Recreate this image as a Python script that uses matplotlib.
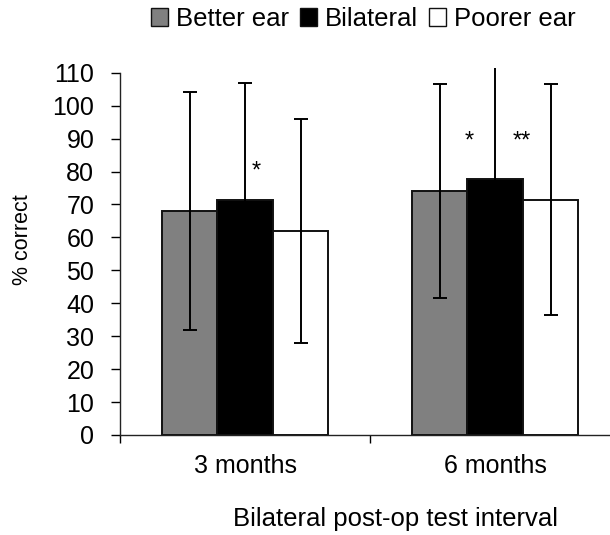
import matplotlib
matplotlib.use("Agg")
import matplotlib.pyplot as plt
from matplotlib.patches import Rectangle
import numpy as np

plt.rcParams['font.family'] = ['Liberation Sans', 'DejaVu Sans']

categories = ["3 months", "6 months"]
series_names = ["Better ear", "Bilateral", "Poorer ear"]
better_ear = [68, 74]
bilateral = [71.5, 77.8]
poorer_ear = [62, 71.5]
better_sd = [36, 32.5]
bilateral_sd = [35.5, 36]
poorer_sd = [34, 35]
yticks = list(range(0, 111, 10))

# significance markers: (x position in category units, y value, text)
star_x = [0.046, 0.898, 1.106]
star_y = [80, 89, 89]
star_txt = ["*", "*", "**"]

colors = ["#808080", "#000000", "#ffffff"]

fig = plt.figure(figsize=(6.1, 5.35), dpi=100)
ax = fig.add_axes([120/610, 100/535, 1 - 120/610, (435 - 72.7)/535 * 1.0136])

x = np.arange(len(categories))
w = 0.222
vals = [better_ear, bilateral, poorer_ear]
sds = [better_sd, bilateral_sd, poorer_sd]
for i, (v, s, c) in enumerate(zip(vals, sds, colors)):
    xs = x + (i - 1) * w
    ax.bar(xs, v, width=w, color=c, edgecolor="#111111", linewidth=1.4, zorder=2)
    ax.errorbar(xs, v, yerr=s, fmt="none", ecolor="black", elinewidth=1.4,
                capsize=4.7, capthick=1.4, zorder=3)

for sx, sy, st in zip(star_x, star_y, star_txt):
    ax.text(sx, sy, st, ha="center", va="center", fontsize=17)

ax.set_ylim(0, 111.5)
ax.set_xlim(-0.5, 1.46)
ax.spines['left'].set_bounds(0, 110)
ax.spines['top'].set_visible(False)
ax.spines['right'].set_visible(False)
for sp in ax.spines.values():
    sp.set_linewidth(1.0)
    sp.set_color("#222222")

ax.set_yticks(yticks)
ax.set_yticklabels([str(t) for t in yticks], fontsize=18)
ax.tick_params(axis='y', direction='out', length=6.5, width=1.0, pad=12)

ax.set_xticks([-0.5, 0.5])
ax.set_xticklabels(["", ""])
ax.tick_params(axis='x', which='major', direction='out', length=6, width=1.0)
ax.set_xticks(x, minor=True)
ax.set_xticklabels(categories, minor=True, fontsize=18)
ax.tick_params(axis='x', which='minor', length=0, pad=14)

fig.text(23/610, 1 - 240/535, "% correct", rotation=90, ha="center", va="center", fontsize=15.5)
fig.text(395/610, 1 - 519/535, "Bilateral post-op test interval", ha="center", va="center", fontsize=18.5)

handles = [Rectangle((0, 0), 1, 1, facecolor=c, edgecolor="#111111", linewidth=1.0) for c in colors]
leg = fig.legend(handles, series_names, loc="center", bbox_to_anchor=(363/610, 1 - 19/535),
                 ncol=3, frameon=False, fontsize=18.5, handlelength=0.66, handleheight=0.66,
                 handletextpad=0.31, columnspacing=0.43, borderaxespad=0)

fig.savefig("out.png", dpi=100)
